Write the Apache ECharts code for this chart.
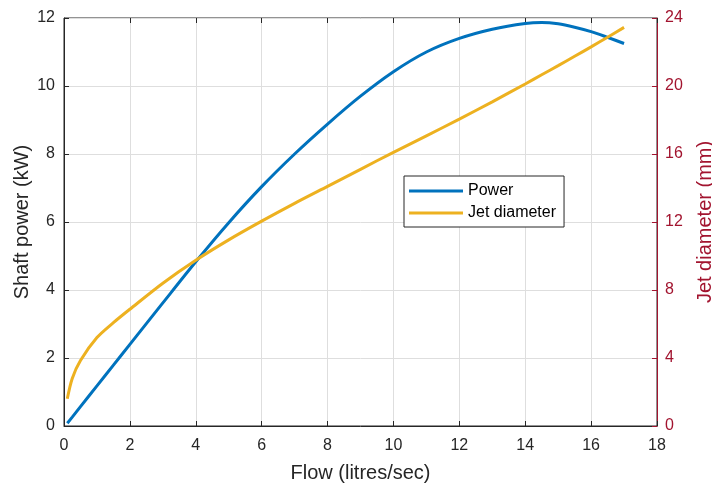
<!DOCTYPE html>
<html>
<head>
<meta charset="utf-8">
<title>Shaft power and jet diameter</title>
<script src="https://cdn.jsdelivr.net/npm/echarts@6/dist/echarts.min.js"></script>
<style>
    html, body { margin: 0; padding: 0; background: #fff; }
    #chart { width: 712px; height: 484px; }
</style>
</head>
<body>
<div id="chart"></div>
<script>
// 流量 (litres/sec)
var flow = [0.1, 0.25, 0.5, 1, 1.5, 2, 3, 4, 5, 6, 7, 8, 9, 10, 11, 12, 13, 14, 14.5, 15, 15.5, 16, 16.5, 17];
// 轴功率 (kW)
var power = [0.08, 0.26, 0.57, 1.18, 1.79, 2.4, 3.62, 4.83, 5.98, 7.04, 8.0, 8.88, 9.7, 10.42, 11.0, 11.4, 11.67, 11.84, 11.87, 11.83, 11.73, 11.6, 11.43, 11.25];
// 射流直径 (mm)
var jetDiameter = [1.6, 2.8, 3.85, 5.2, 6.08, 6.87, 8.4, 9.75, 10.95, 12.05, 13.1, 14.1, 15.1, 16.1, 17.07, 18.05, 19.07, 20.12, 20.66, 21.2, 21.75, 22.3, 22.87, 23.45];

var seriesNames = ['Power', 'Jet diameter'];

var BLUE = '#0072BD';
var YELLOW = '#EDB120';
var RED = '#A2142F';
var INK = '#262626';
var FONT = '"Liberation Sans", Arial, Helvetica, sans-serif';

function pairs(xs, ys) {
    return xs.map(function (x, i) { return [x, ys[i]]; });
}

var chart = echarts.init(document.getElementById('chart'));

var option = {
    animation: false,
    backgroundColor: '#fff',
    textStyle: { fontFamily: FONT },
    grid: {
        left: 64, right: 55, top: 18, bottom: 58,
        outerBoundsMode: 'none',
        containLabel: false,
        show: true, borderColor: INK, borderWidth: 1
    },
    legend: {
        orient: 'vertical',
        left: 404, top: 176,
        padding: [7, 8, 6, 5],
        itemGap: 6,
        itemWidth: 54, itemHeight: 3,
        backgroundColor: '#fff',
        borderColor: INK, borderWidth: 1,
        textStyle: { fontSize: 16, color: '#000', fontFamily: FONT },
        data: [
            { name: seriesNames[0], icon: 'rect', itemStyle: { color: BLUE } },
            { name: seriesNames[1], icon: 'rect', itemStyle: { color: YELLOW } }
        ]
    },
    xAxis: [{
        type: 'value', min: 0, max: 18, interval: 2,
        name: 'Flow (litres/sec)', nameLocation: 'middle', nameGap: 37,
        nameMoveOverlap: false,
        nameTextStyle: { fontSize: 20, color: INK },
        axisLine: { onZero: false, lineStyle: { color: INK, width: 1 } },
        axisTick: { inside: true, length: 5, lineStyle: { color: INK } },
        axisLabel: { fontSize: 16, color: INK, margin: 12 },
        splitLine: { lineStyle: { color: '#dedede', width: 1 } }
    }, {
        // 顶部刻度
        type: 'value', position: 'top', min: 0, max: 18, interval: 2,
        axisLine: { show: false, onZero: false },
        axisTick: { show: true, inside: true, length: 5, lineStyle: { color: INK } },
        axisLabel: { show: false },
        splitLine: { show: false }
    }],
    yAxis: [{
        type: 'value', position: 'left', min: 0, max: 12, interval: 2,
        name: 'Shaft power (kW)', nameLocation: 'middle', nameGap: 32, nameRotate: 90,
        nameMoveOverlap: false,
        nameTextStyle: { fontSize: 20, color: INK },
        axisLine: { show: true, onZero: false, lineStyle: { color: INK, width: 1 } },
        axisTick: { show: true, inside: true, length: 5, lineStyle: { color: INK } },
        axisLabel: { fontSize: 16, color: INK, margin: 9 },
        splitLine: { lineStyle: { color: '#dedede', width: 1 } }
    }, {
        type: 'value', position: 'right', min: 0, max: 24, interval: 4,
        name: 'Jet diameter (mm)', nameLocation: 'middle', nameGap: 38, nameRotate: 90,
        nameMoveOverlap: false,
        nameTextStyle: { fontSize: 20, color: RED },
        axisLine: { show: true, onZero: false, lineStyle: { color: RED, width: 1 } },
        axisTick: { show: true, inside: true, length: 5, lineStyle: { color: RED } },
        axisLabel: { fontSize: 16, color: RED, margin: 8 },
        splitLine: { show: false }
    }],
    series: [{
        name: seriesNames[0], type: 'line',
        xAxisIndex: 0, yAxisIndex: 0,
        data: pairs(flow, power),
        smooth: 0.3,
        symbol: 'none',
        lineStyle: { color: BLUE, width: 3 },
        itemStyle: { color: BLUE }
    }, {
        name: seriesNames[1], type: 'line',
        xAxisIndex: 0, yAxisIndex: 1,
        data: pairs(flow, jetDiameter),
        smooth: 0.3,
        symbol: 'none',
        lineStyle: { color: YELLOW, width: 3 },
        itemStyle: { color: YELLOW }
    }]
};

chart.setOption(option);
</script>
</body>
</html>
